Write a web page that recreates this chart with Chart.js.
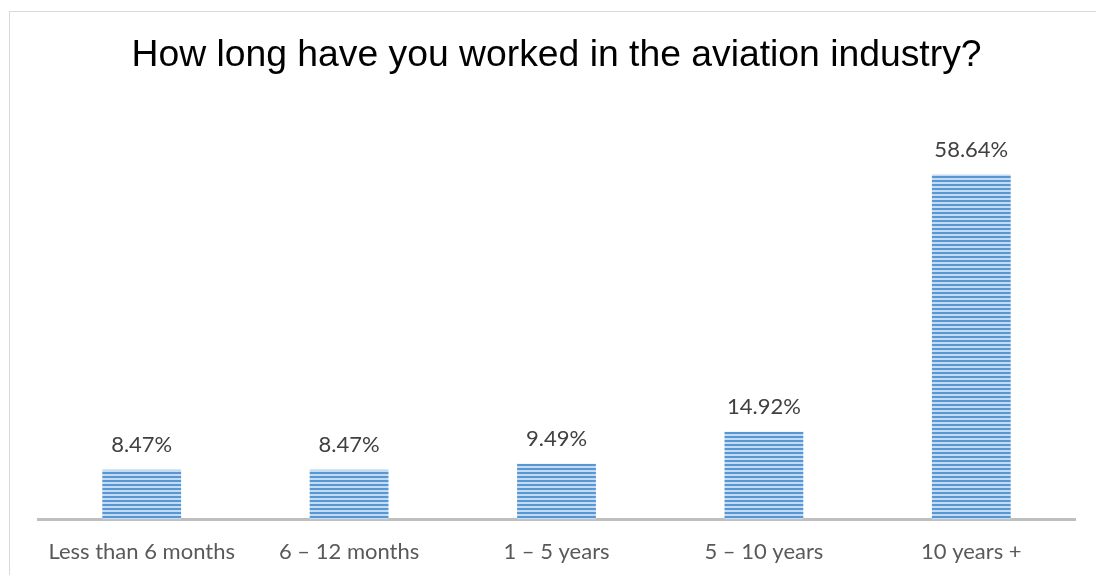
<!DOCTYPE html>
<html>
<head>
<meta charset="utf-8">
<script src="https://cdn.jsdelivr.net/npm/chart.js@4"></script>
<style>
  body { margin: 0; background: #fff; }
  #frame { position: absolute; left: 9px; top: 11px; width: 1100px; height: 580px; border: 1px solid #d9d9d9; }
  #wrap { position: absolute; left: 0; top: 0; width: 1096px; height: 575px; }
</style>
</head>
<body>
<div id="frame"></div>
<div id="wrap"><canvas id="tenureChart"></canvas></div>
<script>
const categories = ['Less than 6 months', '6 – 12 months', '1 – 5 years', '5 – 10 years', '10 years +'];
const shares = [8.47, 8.47, 9.49, 14.92, 58.64];

// narrow horizontal stripes for the bar fill
function stripePattern(ctx) {
  const tile = document.createElement('canvas');
  tile.width = 8;
  tile.height = 4;
  const t = tile.getContext('2d');
  t.fillStyle = '#c4dbf1';
  t.fillRect(0, 0, 8, 4);
  t.fillStyle = '#5797d3';
  t.fillRect(0, 0, 8, 2);
  return ctx.createPattern(tile, 'repeat');
}

// writes the percentage above each bar
const valueLabels = {
  id: 'valueLabels',
  afterDatasetsDraw(chart) {
    const ctx = chart.ctx;
    const meta = chart.getDatasetMeta(0);
    ctx.save();
    ctx.font = '22px Lato, "Open Sans", sans-serif';
    ctx.fillStyle = '#404040';
    ctx.textAlign = 'center';
    ctx.textBaseline = 'middle';
    meta.data.forEach((bar, i) => {
      ctx.fillText(shares[i].toFixed(2) + '%', bar.x, bar.y - 25);
    });
    ctx.restore();
  }
};

const ctx = document.getElementById('tenureChart').getContext('2d');
new Chart(ctx, {
  type: 'bar',
  data: {
    labels: categories,
    datasets: [{
      data: shares,
      backgroundColor: stripePattern(ctx),
      borderWidth: 0,
      barPercentage: 0.38,
      categoryPercentage: 1
    }]
  },
  options: {
    responsive: true,
    maintainAspectRatio: false,
    animation: false,
    layout: { padding: { left: 38, right: 21, top: 0, bottom: -9 } },
    plugins: {
      legend: { display: false },
      tooltip: { enabled: false },
      title: {
        display: true,
        text: 'How long have you worked in the aviation industry?',
        color: '#000',
        font: { family: '"Liberation Sans", Arial, sans-serif', size: 37.3, weight: 'normal' },
        padding: { top: 33, bottom: 30 }
      }
    },
    scales: {
      x: {
        grid: { display: false, drawTicks: false },
        border: { display: true, color: '#bfbfbf', width: 3 },
        ticks: {
          color: '#595959',
          padding: 19,
          font: { family: 'Lato, "Open Sans", sans-serif', size: 22 }
        }
      },
      y: {
        display: false,
        min: 0,
        max: 70
      }
    }
  },
  plugins: [valueLabels]
});
</script>
</body>
</html>
